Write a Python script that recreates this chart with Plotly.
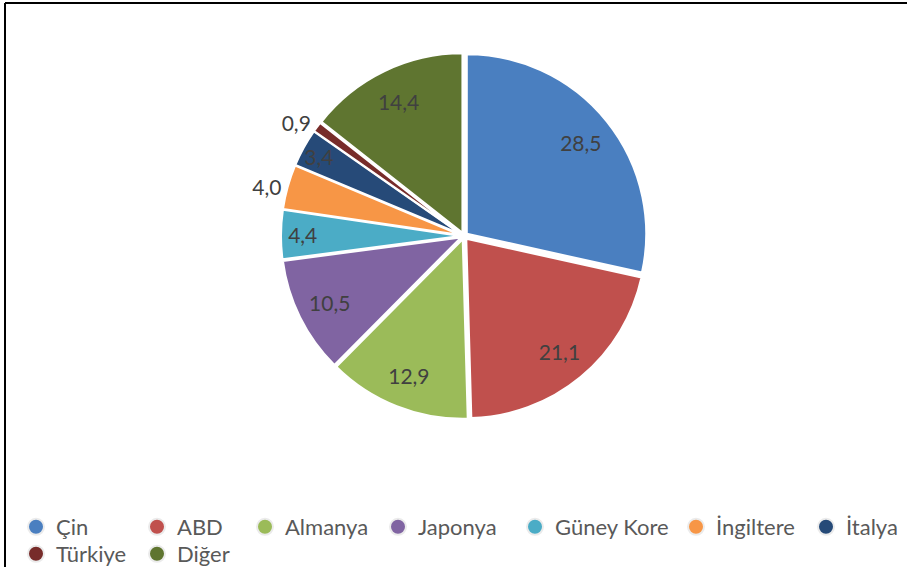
import plotly.graph_objects as go

countries = ["Çin", "ABD", "Almanya", "Japonya", "Güney Kore", "İngiltere", "İtalya", "Türkiye", "Diğer"]
values = [28.5, 21.1, 12.9, 10.5, 4.4, 4.0, 3.4, 0.9, 14.4]
colors = ["#4A7FC0", "#C0504D", "#9BBB59", "#8064A2", "#4BACC6", "#F79646", "#264A78", "#772C2A", "#5F7530"]
label_pos = ["inside", "inside", "inside", "inside", "inside", "outside", "inside", "outside", "inside"]

W, H = 907, 567
labels_txt = [f"{v:.1f}".replace(".", ",") for v in values]

fig = go.Figure()
cx, cy, half = 464, 236, 183
dom = dict(x=[(cx - half) / W, (cx + half) / W], y=[1 - (cy + half) / H, 1 - (cy - half) / H])
pulls = [0.02] * len(values)

# coloured slices
fig.add_trace(go.Pie(
    labels=countries, values=values, textinfo="none",
    sort=False, direction="clockwise", rotation=0,
    marker=dict(colors=colors, line=dict(color="white", width=2)),
    pull=pulls, showlegend=False, hoverinfo="label+value", domain=dom,
))
# transparent ring carrying the data labels (places them near the rim)
fig.add_trace(go.Pie(
    labels=countries, values=values, text=labels_txt, textinfo="text",
    sort=False, direction="clockwise", rotation=0, hole=0.63,
    marker=dict(colors=["rgba(0,0,0,0)"] * len(values), line=dict(width=0)),
    pull=pulls, textposition=label_pos, insidetextorientation="horizontal",
    textfont=dict(family="Lato", size=21, color="#404040"),
    showlegend=False, hoverinfo="skip", domain=dom,
))

# legend entries (circle markers), one legend per entry to mimic layout
leg_x = [36, 157, 265, 398, 535, 696, 826, 36, 157]
leg_y = [527, 527, 527, 527, 527, 527, 527, 554, 554]
layout_legends = {}
for i, (name, col) in enumerate(zip(countries, colors)):
    lname = "legend" if i == 0 else f"legend{i+1}"
    fig.add_trace(go.Scatter(
        x=[None], y=[None], mode="markers", name=name,
        marker=dict(symbol="circle", size=17, color=col, line=dict(color="#EBEBEB", width=2)),
        legend=lname, showlegend=True,
    ))
    layout_legends[lname] = dict(
        x=(leg_x[i] - 20) / W, xanchor="left", y=1 - leg_y[i] / H, yanchor="middle",
        bgcolor="rgba(0,0,0,0)", borderwidth=0,
        font=dict(family="Lato", size=22, color="#595959"),
        itemclick=False, itemdoubleclick=False,
    )

fig.update_layout(
    width=W, height=H,
    margin=dict(l=0, r=0, t=0, b=0, autoexpand=False),
    paper_bgcolor="white", plot_bgcolor="white",
    xaxis=dict(visible=False), yaxis=dict(visible=False),
    uniformtext=dict(minsize=21, mode="show"),
    shapes=[
        dict(type="line", xref="paper", yref="paper", x0=5 / W, x1=5 / W, y0=0, y1=1 - 3 / H,
             line=dict(color="black", width=2)),
        dict(type="line", xref="paper", yref="paper", x0=5 / W, x1=1, y0=1 - 3 / H, y1=1 - 3 / H,
             line=dict(color="black", width=2)),
    ],
    **layout_legends,
)

fig.write_html("out.html", post_script="document.body.style.margin='0';",
               config={"displayModeBar": False})
